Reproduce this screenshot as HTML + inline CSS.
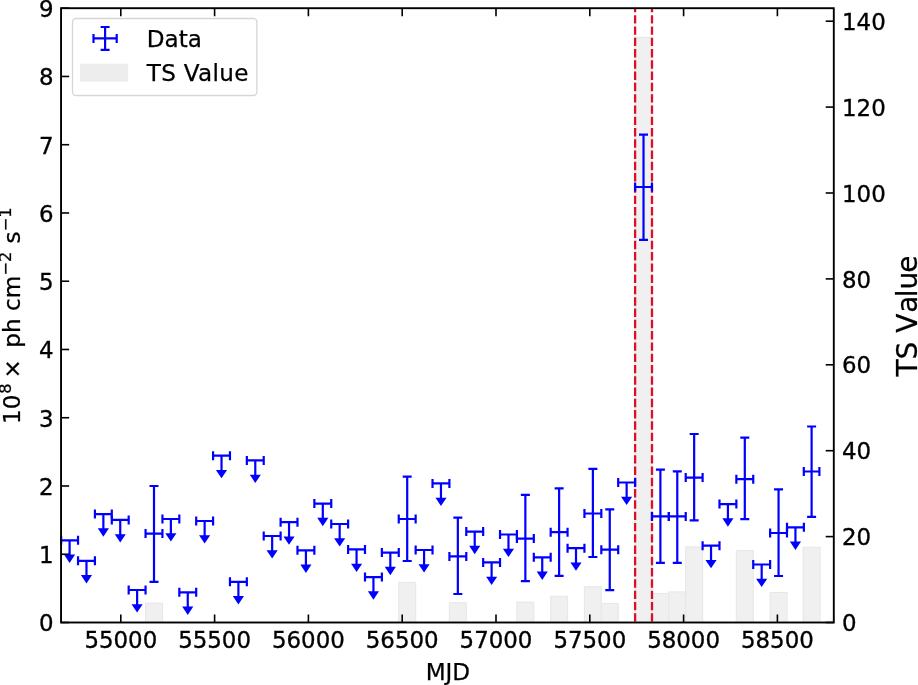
<!DOCTYPE html>
<html lang="en"><head><meta charset="utf-8"><title>Light curve</title>
<style>html,body{margin:0;padding:0;background:#fff}svg{display:block}</style></head>
<body>
<svg width="918" height="685" viewBox="0 0 918 685" font-family='"DejaVu Sans", "Liberation Sans", sans-serif'>
<rect width="918" height="685" fill="#fff"/>
<g fill="#f0f0f0" stroke="#e7e7e7" stroke-width="1">
<rect x="145.50" y="603.1" width="17" height="19.4"/>
<rect x="398.70" y="582.3" width="17" height="40.2"/>
<rect x="449.34" y="602.7" width="17" height="19.8"/>
<rect x="516.86" y="602.1" width="17" height="20.4"/>
<rect x="550.62" y="596.3" width="17" height="26.2"/>
<rect x="584.38" y="586.7" width="17" height="35.8"/>
<rect x="601.26" y="603.6" width="17" height="18.9"/>
<rect x="635.02" y="37.3" width="17" height="585.2"/>
<rect x="651.90" y="593.4" width="17" height="29.1"/>
<rect x="668.78" y="591.9" width="17" height="30.6"/>
<rect x="685.66" y="546.9" width="17" height="75.6"/>
<rect x="736.30" y="550.6" width="17" height="71.9"/>
<rect x="770.06" y="592.5" width="17" height="30.0"/>
<rect x="803.10" y="547.2" width="17" height="75.3"/>
</g>
<line x1="635.1" y1="621.6" x2="635.1" y2="8.2" stroke="#dc0f2b" stroke-width="2.3" stroke-dasharray="8.4 2.884"/>
<line x1="652.0" y1="621.6" x2="652.0" y2="8.2" stroke="#dc0f2b" stroke-width="2.3" stroke-dasharray="8.4 2.884"/>
<g stroke="#0000ff" stroke-width="2.2" fill="none">
<path d="M61.16 540.3H78.04M61.16 535.8v9.0M78.04 535.8v9.0M69.60 540.3v17.6"/>
<path d="M66.10 555.65L69.60 560.90L73.10 555.65Z" fill="#0000ff" stroke-linejoin="miter"/>
<path d="M78.04 560.8H94.92M78.04 556.3v9.0M94.92 556.3v9.0M86.48 560.8v17.6"/>
<path d="M82.98 576.15L86.48 581.40L89.98 576.15Z" fill="#0000ff" stroke-linejoin="miter"/>
<path d="M94.92 514.1H111.80M94.92 509.6v9.0M111.80 509.6v9.0M103.36 514.1v17.6"/>
<path d="M99.86 529.45L103.36 534.70L106.86 529.45Z" fill="#0000ff" stroke-linejoin="miter"/>
<path d="M111.80 519.9H128.68M111.80 515.4v9.0M128.68 515.4v9.0M120.24 519.9v17.6"/>
<path d="M116.74 535.25L120.24 540.50L123.74 535.25Z" fill="#0000ff" stroke-linejoin="miter"/>
<path d="M128.68 590.0H145.56M128.68 585.5v9.0M145.56 585.5v9.0M137.12 590.0v17.6"/>
<path d="M133.62 605.35L137.12 610.60L140.62 605.35Z" fill="#0000ff" stroke-linejoin="miter"/>
<path d="M162.44 519.0H179.32M162.44 514.5v9.0M179.32 514.5v9.0M170.88 519.0v17.6"/>
<path d="M167.38 534.35L170.88 539.60L174.38 534.35Z" fill="#0000ff" stroke-linejoin="miter"/>
<path d="M179.32 592.3H196.20M179.32 587.8v9.0M196.20 587.8v9.0M187.76 592.3v17.6"/>
<path d="M184.26 607.65L187.76 612.90L191.26 607.65Z" fill="#0000ff" stroke-linejoin="miter"/>
<path d="M196.20 521.0H213.08M196.20 516.5v9.0M213.08 516.5v9.0M204.64 521.0v17.6"/>
<path d="M201.14 536.35L204.64 541.60L208.14 536.35Z" fill="#0000ff" stroke-linejoin="miter"/>
<path d="M213.08 455.7H229.96M213.08 451.2v9.0M229.96 451.2v9.0M221.52 455.7v17.6"/>
<path d="M218.02 471.05L221.52 476.30L225.02 471.05Z" fill="#0000ff" stroke-linejoin="miter"/>
<path d="M229.96 581.8H246.84M229.96 577.3v9.0M246.84 577.3v9.0M238.40 581.8v17.6"/>
<path d="M234.90 597.15L238.40 602.40L241.90 597.15Z" fill="#0000ff" stroke-linejoin="miter"/>
<path d="M246.84 460.4H263.72M246.84 455.9v9.0M263.72 455.9v9.0M255.28 460.4v17.6"/>
<path d="M251.78 475.75L255.28 481.00L258.78 475.75Z" fill="#0000ff" stroke-linejoin="miter"/>
<path d="M263.72 536.0H280.60M263.72 531.5v9.0M280.60 531.5v9.0M272.16 536.0v17.6"/>
<path d="M268.66 551.35L272.16 556.60L275.66 551.35Z" fill="#0000ff" stroke-linejoin="miter"/>
<path d="M280.60 522.2H297.48M280.60 517.7v9.0M297.48 517.7v9.0M289.04 522.2v17.6"/>
<path d="M285.54 537.55L289.04 542.80L292.54 537.55Z" fill="#0000ff" stroke-linejoin="miter"/>
<path d="M297.48 550.3H314.36M297.48 545.8v9.0M314.36 545.8v9.0M305.92 550.3v17.6"/>
<path d="M302.42 565.65L305.92 570.90L309.42 565.65Z" fill="#0000ff" stroke-linejoin="miter"/>
<path d="M314.36 503.6H331.24M314.36 499.1v9.0M331.24 499.1v9.0M322.80 503.6v17.6"/>
<path d="M319.30 518.95L322.80 524.20L326.30 518.95Z" fill="#0000ff" stroke-linejoin="miter"/>
<path d="M331.24 524.0H348.12M331.24 519.5v9.0M348.12 519.5v9.0M339.68 524.0v17.6"/>
<path d="M336.18 539.35L339.68 544.60L343.18 539.35Z" fill="#0000ff" stroke-linejoin="miter"/>
<path d="M348.12 549.4H365.00M348.12 544.9v9.0M365.00 544.9v9.0M356.56 549.4v17.6"/>
<path d="M353.06 564.75L356.56 570.00L360.06 564.75Z" fill="#0000ff" stroke-linejoin="miter"/>
<path d="M365.00 577.1H381.88M365.00 572.6v9.0M381.88 572.6v9.0M373.44 577.1v17.6"/>
<path d="M369.94 592.45L373.44 597.70L376.94 592.45Z" fill="#0000ff" stroke-linejoin="miter"/>
<path d="M381.88 552.6H398.76M381.88 548.1v9.0M398.76 548.1v9.0M390.32 552.6v17.6"/>
<path d="M386.82 567.95L390.32 573.20L393.82 567.95Z" fill="#0000ff" stroke-linejoin="miter"/>
<path d="M415.64 550.0H432.52M415.64 545.5v9.0M432.52 545.5v9.0M424.08 550.0v17.6"/>
<path d="M420.58 565.35L424.08 570.60L427.58 565.35Z" fill="#0000ff" stroke-linejoin="miter"/>
<path d="M432.52 483.4H449.40M432.52 478.9v9.0M449.40 478.9v9.0M440.96 483.4v17.6"/>
<path d="M437.46 498.75L440.96 504.00L444.46 498.75Z" fill="#0000ff" stroke-linejoin="miter"/>
<path d="M466.28 531.6H483.16M466.28 527.1v9.0M483.16 527.1v9.0M474.72 531.6v17.6"/>
<path d="M471.22 546.95L474.72 552.20L478.22 546.95Z" fill="#0000ff" stroke-linejoin="miter"/>
<path d="M483.16 562.4H500.04M483.16 557.9v9.0M500.04 557.9v9.0M491.60 562.4v17.6"/>
<path d="M488.10 577.75L491.60 583.00L495.10 577.75Z" fill="#0000ff" stroke-linejoin="miter"/>
<path d="M500.04 534.5H516.92M500.04 530.0v9.0M516.92 530.0v9.0M508.48 534.5v17.6"/>
<path d="M504.98 549.85L508.48 555.10L511.98 549.85Z" fill="#0000ff" stroke-linejoin="miter"/>
<path d="M533.80 557.3H550.68M533.80 552.8v9.0M550.68 552.8v9.0M542.24 557.3v17.6"/>
<path d="M538.74 572.65L542.24 577.90L545.74 572.65Z" fill="#0000ff" stroke-linejoin="miter"/>
<path d="M567.56 548.2H584.44M567.56 543.7v9.0M584.44 543.7v9.0M576.00 548.2v17.6"/>
<path d="M572.50 563.55L576.00 568.80L579.50 563.55Z" fill="#0000ff" stroke-linejoin="miter"/>
<path d="M618.20 482.5H635.08M618.20 478.0v9.0M635.08 478.0v9.0M626.64 482.5v17.6"/>
<path d="M623.14 497.85L626.64 503.10L630.14 497.85Z" fill="#0000ff" stroke-linejoin="miter"/>
<path d="M702.60 545.7H719.48M702.60 541.2v9.0M719.48 541.2v9.0M711.04 545.7v17.6"/>
<path d="M707.54 561.05L711.04 566.30L714.54 561.05Z" fill="#0000ff" stroke-linejoin="miter"/>
<path d="M719.48 504.1H736.36M719.48 499.6v9.0M736.36 499.6v9.0M727.92 504.1v17.6"/>
<path d="M724.42 519.45L727.92 524.70L731.42 519.45Z" fill="#0000ff" stroke-linejoin="miter"/>
<path d="M753.24 564.5H770.12M753.24 560.0v9.0M770.12 560.0v9.0M761.68 564.5v17.6"/>
<path d="M758.18 579.85L761.68 585.10L765.18 579.85Z" fill="#0000ff" stroke-linejoin="miter"/>
<path d="M787.00 527.3H803.88M787.00 522.8v9.0M803.88 522.8v9.0M795.44 527.3v17.6"/>
<path d="M791.94 542.65L795.44 547.90L798.94 542.65Z" fill="#0000ff" stroke-linejoin="miter"/>
<path d="M145.56 533.6H162.44M145.56 529.1v9.0M162.44 529.1v9.0M154.00 486.0V581.8M149.50 486.0h9.0M149.50 581.8h9.0"/>
<path d="M398.76 519.0H415.64M398.76 514.5v9.0M415.64 514.5v9.0M407.20 476.7V561.0M402.70 476.7h9.0M402.70 561.0h9.0"/>
<path d="M449.40 556.4H466.28M449.40 551.9v9.0M466.28 551.9v9.0M457.84 517.6V594.0M453.34 517.6h9.0M453.34 594.0h9.0"/>
<path d="M516.92 538.6H533.80M516.92 534.1v9.0M533.80 534.1v9.0M525.36 494.8V581.2M520.86 494.8h9.0M520.86 581.2h9.0"/>
<path d="M550.68 532.2H567.56M550.68 527.7v9.0M567.56 527.7v9.0M559.12 488.4V575.9M554.62 488.4h9.0M554.62 575.9h9.0"/>
<path d="M584.44 513.5H601.32M584.44 509.0v9.0M601.32 509.0v9.0M592.88 468.8V557.0M588.38 468.8h9.0M588.38 557.0h9.0"/>
<path d="M601.32 549.7H618.20M601.32 545.2v9.0M618.20 545.2v9.0M609.76 509.4V590.2M605.26 509.4h9.0M605.26 590.2h9.0"/>
<path d="M635.08 187.0H651.96M635.08 182.5v9.0M651.96 182.5v9.0M643.52 134.7V239.8M639.02 134.7h9.0M639.02 239.8h9.0"/>
<path d="M651.96 516.4H668.84M651.96 511.9v9.0M668.84 511.9v9.0M660.40 469.7V562.8M655.90 469.7h9.0M655.90 562.8h9.0"/>
<path d="M668.84 516.4H685.72M668.84 511.9v9.0M685.72 511.9v9.0M677.28 471.4V562.8M672.78 471.4h9.0M672.78 562.8h9.0"/>
<path d="M685.72 477.6H702.60M685.72 473.1v9.0M702.60 473.1v9.0M694.16 434.0V520.3M689.66 434.0h9.0M689.66 520.3h9.0"/>
<path d="M736.36 479.2H753.24M736.36 474.7v9.0M753.24 474.7v9.0M744.80 437.6V519.2M740.30 437.6h9.0M740.30 519.2h9.0"/>
<path d="M770.12 533.0H787.00M770.12 528.5v9.0M787.00 528.5v9.0M778.56 489.3V576.0M774.06 489.3h9.0M774.06 576.0h9.0"/>
<path d="M803.80 471.5H819.40M803.80 467.0v9.0M819.40 467.0v9.0M811.60 426.5V516.9M807.10 426.5h9.0M807.10 516.9h9.0"/>
</g>
<rect x="61.05" y="8.2" width="772.75" height="614.3" fill="none" stroke="#000" stroke-width="1.9"/>
<g stroke="#000" stroke-width="1.6">
<path d="M120.80 622.5v-8.1M120.80 8.2v8.1"/>
<path d="M214.60 622.5v-8.1M214.60 8.2v8.1"/>
<path d="M308.40 622.5v-8.1M308.40 8.2v8.1"/>
<path d="M402.20 622.5v-8.1M402.20 8.2v8.1"/>
<path d="M496.00 622.5v-8.1M496.00 8.2v8.1"/>
<path d="M589.80 622.5v-8.1M589.80 8.2v8.1"/>
<path d="M683.60 622.5v-8.1M683.60 8.2v8.1"/>
<path d="M777.40 622.5v-8.1M777.40 8.2v8.1"/>
<path d="M61.05 622.50h8.1"/>
<path d="M61.05 554.24h8.1"/>
<path d="M61.05 485.99h8.1"/>
<path d="M61.05 417.73h8.1"/>
<path d="M61.05 349.48h8.1"/>
<path d="M61.05 281.22h8.1"/>
<path d="M61.05 212.97h8.1"/>
<path d="M61.05 144.71h8.1"/>
<path d="M61.05 76.46h8.1"/>
<path d="M61.05 8.20h8.1"/>
<path d="M833.8 622.50h-8.1"/>
<path d="M833.8 536.60h-8.1"/>
<path d="M833.8 450.70h-8.1"/>
<path d="M833.8 364.80h-8.1"/>
<path d="M833.8 278.90h-8.1"/>
<path d="M833.8 193.00h-8.1"/>
<path d="M833.8 107.10h-8.1"/>
<path d="M833.8 21.20h-8.1"/>
</g>
<g font-size="22.9" fill="#000" stroke="#000" stroke-width="0.35">
<text x="120.80" y="648.0" text-anchor="middle">55000</text>
<text x="214.60" y="648.0" text-anchor="middle">55500</text>
<text x="308.40" y="648.0" text-anchor="middle">56000</text>
<text x="402.20" y="648.0" text-anchor="middle">56500</text>
<text x="496.00" y="648.0" text-anchor="middle">57000</text>
<text x="589.80" y="648.0" text-anchor="middle">57500</text>
<text x="683.60" y="648.0" text-anchor="middle">58000</text>
<text x="777.40" y="648.0" text-anchor="middle">58500</text>
<text x="53.5" y="631.30" text-anchor="end">0</text>
<text x="53.5" y="563.04" text-anchor="end">1</text>
<text x="53.5" y="494.79" text-anchor="end">2</text>
<text x="53.5" y="426.53" text-anchor="end">3</text>
<text x="53.5" y="358.28" text-anchor="end">4</text>
<text x="53.5" y="290.02" text-anchor="end">5</text>
<text x="53.5" y="221.77" text-anchor="end">6</text>
<text x="53.5" y="153.51" text-anchor="end">7</text>
<text x="53.5" y="85.26" text-anchor="end">8</text>
<text x="53.5" y="17.00" text-anchor="end">9</text>
<text x="842" y="631.10">0</text>
<text x="842" y="545.20">20</text>
<text x="842" y="459.30">40</text>
<text x="842" y="373.40">60</text>
<text x="842" y="287.50">80</text>
<text x="842" y="201.60">100</text>
<text x="842" y="115.70">120</text>
<text x="842" y="29.80">140</text>
</g>
<text x="447.9" y="679.5" font-size="23.1" text-anchor="middle" stroke="#000" stroke-width="0.25">MJD</text>
<text transform="translate(917.3 376.5) rotate(-90)" font-size="28" dx="0 0 0 0 3 -1.8 0 -0.9" stroke="#000" stroke-width="0.25">TS Value</text>
<text transform="translate(19.8 422) rotate(-90)" font-size="23.1" stroke="#000" stroke-width="0.25">
<tspan x="-2.0" y="0">10</tspan>
<tspan x="28.3" y="-8.7" font-size="16.2">8</tspan>
<tspan x="43.4" y="0">×</tspan>
<tspan x="74.36" y="0">ph</tspan>
<tspan x="111.07" y="0">cm</tspan>
<tspan x="146.54" y="-8.7" font-size="16.2">−2</tspan>
<tspan x="178.41" y="0">s</tspan>
<tspan x="190.68" y="-8.7" font-size="16.2">−1</tspan>
</text>
<rect x="72.5" y="18.5" width="184.4" height="77" rx="3.5" fill="#fff" fill-opacity="0.8" stroke="#cccccc" stroke-opacity="0.8" stroke-width="1.3"/>
<path d="M93.5 38.4h23.2M93.5 33.9v9M116.69999999999999 33.9v9M105.1 27.0v22.8M100.6 27.0h9M100.6 49.8h9" stroke="#0000ff" stroke-width="2.2" fill="none"/>
<rect x="80.1" y="63.7" width="48" height="18" fill="#ededed"/>
<text x="146.8" y="47.1" font-size="23.1" stroke="#000" stroke-width="0.25">Data</text>
<text x="146.8" y="81.1" font-size="23.1" letter-spacing="0.3" stroke="#000" stroke-width="0.25">TS Value</text>
</svg>
</body></html>
